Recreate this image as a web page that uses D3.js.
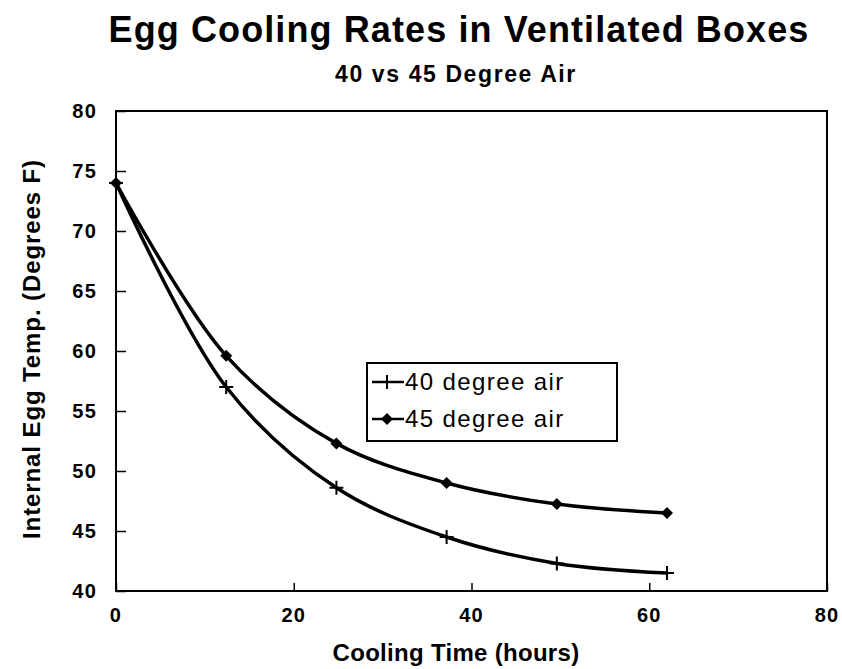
<!DOCTYPE html>
<html><head><meta charset="utf-8">
<script src="https://cdn.jsdelivr.net/npm/d3@7"></script>
<style>body{margin:0;background:#fff}svg{display:block}text{font-family:"Liberation Sans",Arial,sans-serif;fill:#000}</style>
</head><body>
<script>
const hours = [0, 12.4, 24.8, 37.2, 49.6, 62];
const air40 = [74.0, 57.0, 48.6, 44.5, 42.3, 41.5];
const air45 = [74.0, 59.6, 52.3, 49.0, 47.25, 46.5];
const xTicks = [0, 20, 40, 60, 80];
const yTicks = [40, 45, 50, 55, 60, 65, 70, 75, 80];
const seriesNames = ["40 degree air", "45 degree air"];

const W = 842, H = 669;
const svg = d3.select("body").append("svg").attr("width", W).attr("height", H);
const x = d3.scaleLinear().domain([0, 80]).range([116, 827]);
const y = d3.scaleLinear().domain([40, 80]).range([591, 111]);

svg.append("text").attr("x", 459).attr("y", 42).attr("text-anchor", "middle")
  .attr("font-size", 36).attr("font-weight", "bold").attr("letter-spacing", 1.1)
  .text("Egg Cooling Rates in Ventilated Boxes");
svg.append("text").attr("x", 456).attr("y", 82).attr("text-anchor", "middle")
  .attr("font-size", 23).attr("font-weight", "bold").attr("letter-spacing", 1.6)
  .text("40 vs 45 Degree Air");

// frame
svg.append("rect").attr("x", x(0)).attr("y", y(80)).attr("width", x(80) - x(0)).attr("height", y(40) - y(80))
  .attr("fill", "none").attr("stroke", "#000").attr("stroke-width", 2);

const yAxis = svg.append("g").attr("transform", `translate(${x(0)},0)`)
  .call(d3.axisRight(y).tickValues(yTicks).tickSize(10).tickFormat(""));
yAxis.select(".domain").remove();
yAxis.selectAll("line").attr("stroke-width", 1.5);
const xAxis = svg.append("g").attr("transform", `translate(0,${y(40)})`)
  .call(d3.axisTop(x).tickValues(xTicks).tickSize(8).tickFormat(""));
xAxis.select(".domain").remove();
xAxis.selectAll("line").attr("stroke-width", 1.5);

svg.selectAll(".ylab").data(yTicks).join("text").attr("class", "ylab")
  .attr("x", 97).attr("y", d => y(d) + 7).attr("text-anchor", "end")
  .attr("font-size", 20).attr("font-weight", "bold").attr("letter-spacing", 1.2).text(d => d);
svg.selectAll(".xlab").data(xTicks).join("text").attr("class", "xlab")
  .attr("x", d => x(d)).attr("y", 622).attr("text-anchor", "middle")
  .attr("font-size", 20).attr("font-weight", "bold").attr("letter-spacing", 1.2).text(d => d);

svg.append("text").attr("x", 456).attr("y", 661).attr("text-anchor", "middle")
  .attr("font-size", 24).attr("font-weight", "bold").attr("letter-spacing", 0.3).text("Cooling Time (hours)");
svg.append("text").attr("transform", "translate(40,349) rotate(-90)").attr("text-anchor", "middle")
  .attr("font-size", 24).attr("font-weight", "bold").attr("letter-spacing", 0.9).text("Internal Egg Temp. (Degrees F)");

const line = d3.line().x(d => x(d[0])).y(d => y(d[1])).curve(d3.curveCatmullRom.alpha(0.5));
const s40 = hours.map((h, i) => [h, air40[i]]);
const s45 = hours.map((h, i) => [h, air45[i]]);
[s40, s45].forEach(s => svg.append("path").attr("d", line(s)).attr("fill", "none")
  .attr("stroke", "#000").attr("stroke-width", 3.5));

const plus = (g, cx, cy) => g.append("path").attr("d", `M${cx-7},${cy}H${cx+7}M${cx},${cy-7}V${cy+7}`)
  .attr("stroke", "#000").attr("stroke-width", 2);
const diamond = (g, cx, cy) => g.append("path").attr("d", `M${cx},${cy-6}L${cx+6},${cy}L${cx},${cy+6}L${cx-6},${cy}Z`)
  .attr("fill", "#000");
s40.forEach(d => plus(svg, x(d[0]), y(d[1])));
s45.forEach(d => diamond(svg, x(d[0]), y(d[1])));

// legend
const lg = svg.append("g");
lg.append("rect").attr("x", 367).attr("y", 363).attr("width", 250).attr("height", 78)
  .attr("fill", "#fff").attr("stroke", "#000").attr("stroke-width", 2);
const rows = [382, 419];
rows.forEach((ry, i) => {
  lg.append("line").attr("x1", 372).attr("x2", 404).attr("y1", ry).attr("y2", ry)
    .attr("stroke", "#000").attr("stroke-width", 2.5);
  if (i === 0) plus(lg, 387, ry); else diamond(lg, 387, ry);
  lg.append("text").attr("x", 405).attr("y", ry + 8).attr("font-size", 24).attr("letter-spacing", 1.4)
    .text(seriesNames[i]);
});
</script>
</body></html>
